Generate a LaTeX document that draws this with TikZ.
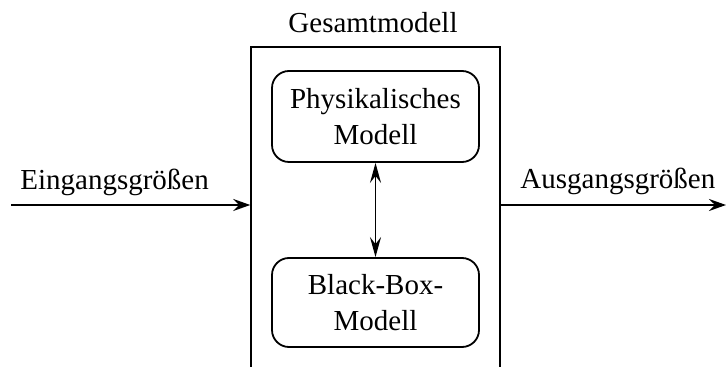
\documentclass[tikz,border=0pt]{standalone}
\usepackage{fontspec}
\setmainfont{Liberation Serif}
\usetikzlibrary{arrows.meta}
\begin{document}
\begin{tikzpicture}[x=0.5pt,y=-0.5pt,
  every node/.style={font=\fontsize{14.5}{18}\selectfont},
  model/.style={draw, line width=0.9pt, rounded corners=8.5pt, align=center,
    minimum width=103.5pt, inner sep=0pt},
  outerbox/.style={draw, line width=0.75pt, minimum width=124.5pt, minimum height=166.5pt, inner sep=0pt},
  conn/.style={line width=0.9pt, -{Stealth[length=8.5pt,width=6pt,inset=3pt]}},
  biconn/.style={line width=0.8pt, {Stealth[length=10pt,width=5.5pt,inset=3.5pt]}-{Stealth[length=10pt,width=5.5pt,inset=3.5pt]}},
  lbl/.style={anchor=base, inner sep=0pt}]
\useasboundingbox (0,0) rectangle (726,367);
\clip (0,0) rectangle (726,367);
\node[outerbox] (outer) at (375.5,213.5) {};
\node[model, minimum height=45.5pt] (phys) at (375.5,116.5) {Physikalisches\\Modell};
\node[model, minimum height=44.5pt] (bb) at (375.5,302.5) {Black-Box-\\Modell};
\node[lbl] (gl) at (373,33) {Gesamtmodell};
\coordinate (in) at (11,205);
\coordinate (out) at (726,205);
\node[lbl, anchor=base west] (il) at (20,190) {Eingangsgrößen};
\node[lbl, anchor=base west] (ol) at (520,189) {Ausgangsgrößen};
\draw[conn] (in) -- (in -| outer.west);
\draw[conn] (out -| outer.east) -- (out);
\draw[biconn] (phys.south) -- (bb.north);
\end{tikzpicture}
\end{document}
